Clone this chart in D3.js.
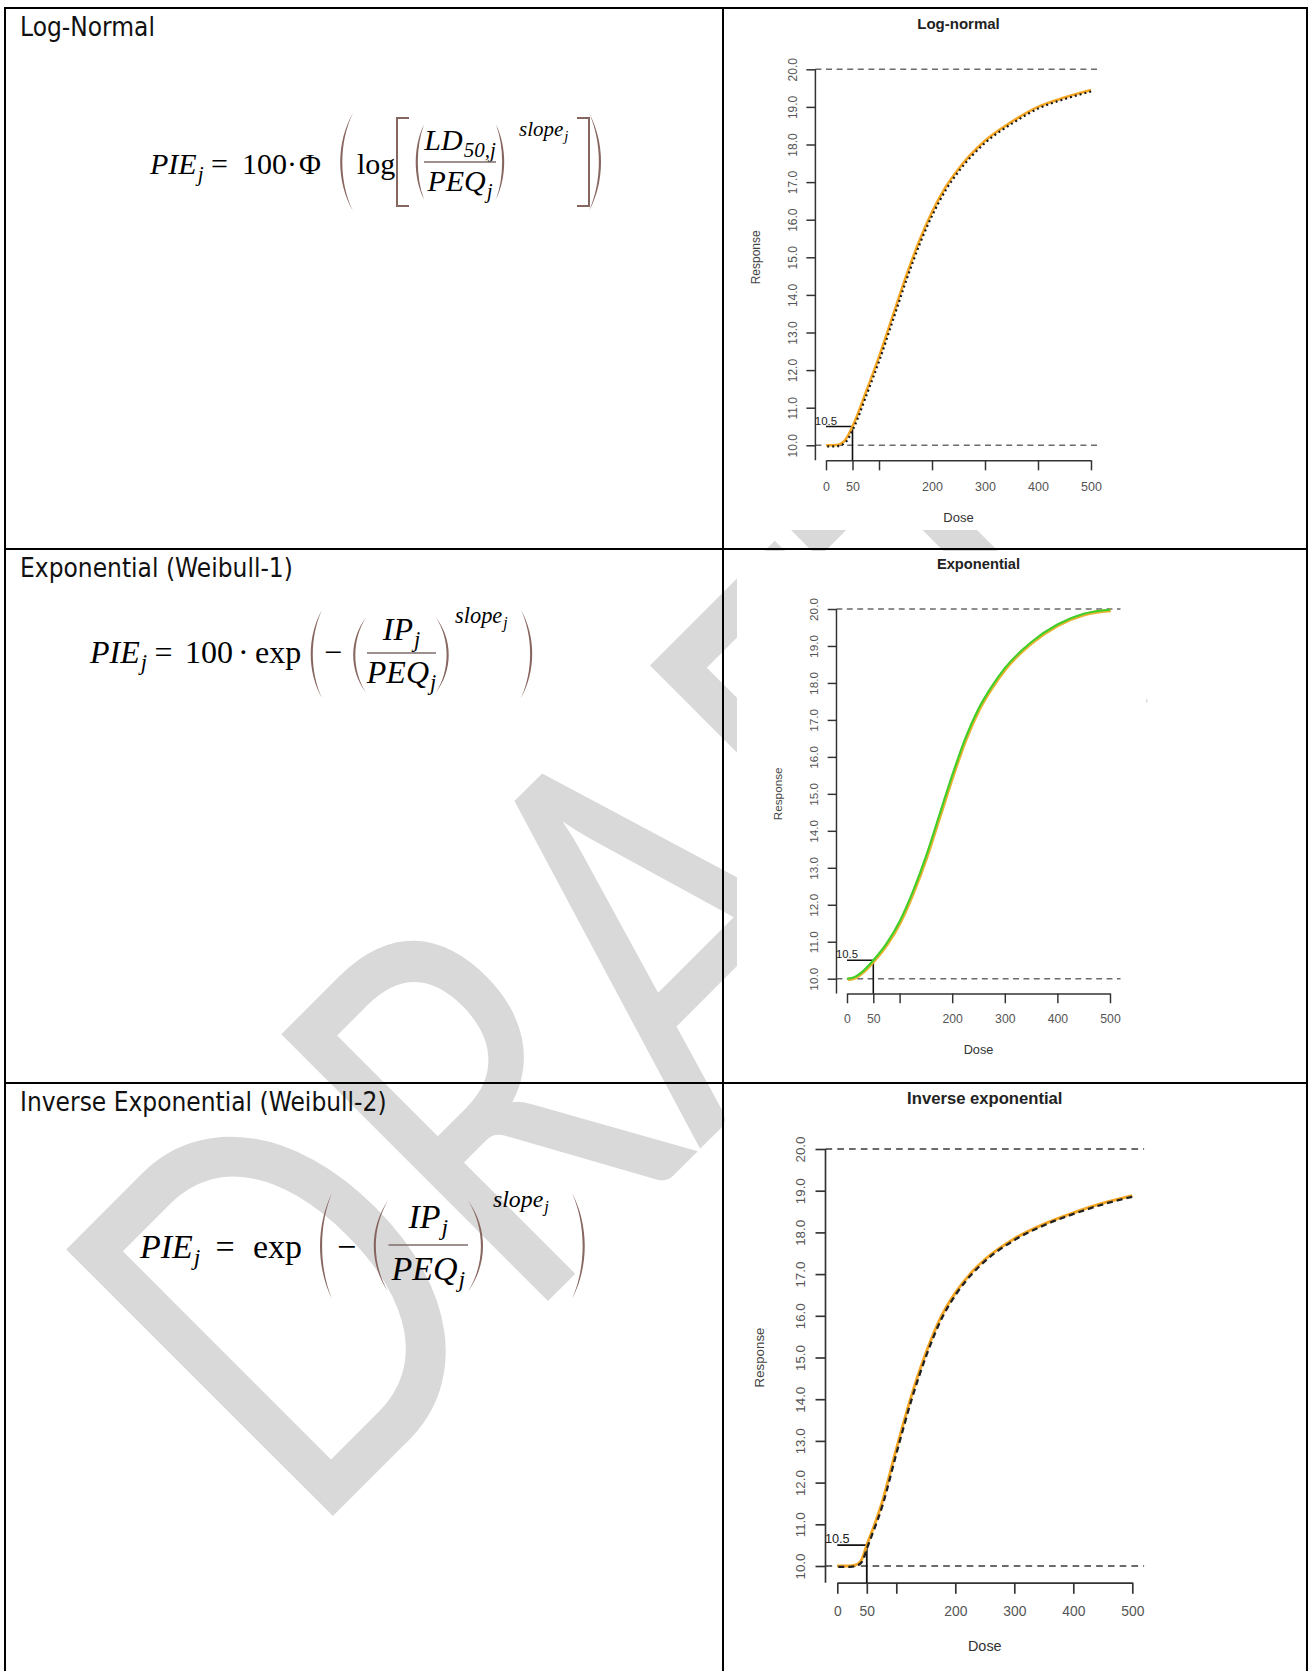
<!DOCTYPE html>
<html>
<head>
<meta charset="utf-8">
<script src="https://cdn.jsdelivr.net/npm/d3@7"></script>
<style>
  html, body { margin: 0; padding: 0; background: #fff; }
  svg { display: block; }
</style>
</head>
<body>
<div id="chart"></div>
<script>
// ---- values ----
const rowTitles = ["Log-Normal", "Exponential (Weibull-1)", "Inverse Exponential (Weibull-2)"];
const plotTitles = ["Log-normal", "Exponential", "Inverse exponential"];
const doseTicks = [0, 50, 100, 200, 300, 400, 500];
const doseTickLabels = ["0", "50", "", "200", "300", "400", "500"];
const responseTicks = [10, 11, 12, 13, 14, 15, 16, 17, 18, 19, 20];
const doseRange = [-20, 520];
const responseRange = [9.6, 20.4];
const asymptotes = [10, 20];
const refPoint = [50, 10.5];
const refLabel = "10.5";

const logNormalDose = [0, 20, 35, 50, 75, 100, 125, 150, 175, 200, 225, 250, 300, 350, 400, 450, 500];
const logNormalResponse = [10.0, 10.01, 10.12, 10.5, 11.4, 12.35, 13.4, 14.45, 15.4, 16.2, 16.85, 17.35, 18.1, 18.6, 19.0, 19.25, 19.45];

const exponentialDose = [0, 15, 30, 50, 75, 100, 125, 150, 175, 200, 225, 250, 275, 300, 350, 400, 450, 500];
const exponentialResponse = [10.0, 10.05, 10.2, 10.5, 10.95, 11.55, 12.35, 13.3, 14.4, 15.5, 16.5, 17.3, 17.9, 18.4, 19.1, 19.58, 19.87, 19.98];

const inverseExpDose = [0, 20, 30, 40, 50, 75, 100, 125, 150, 175, 200, 225, 250, 300, 350, 400, 450, 500];
const inverseExpResponse = [10.0, 10.0, 10.02, 10.12, 10.5, 11.48, 12.8, 14.05, 15.1, 15.95, 16.55, 17.0, 17.35, 17.85, 18.2, 18.47, 18.7, 18.88];

const watermark = "DRAFT";

// ---- page ----
const W = 1310, H = 1671;
const svg = d3.select("#chart").append("svg")
  .attr("width", W).attr("height", H)
  .style("font-family", "'Liberation Sans', Arial, sans-serif");

svg.append("rect").attr("width", W).attr("height", H).attr("fill", "#fff");

// watermark behind everything
const wmG = svg.append("g");
const wmText = wmG.append("text")
  .text(watermark)
  .attr("font-family", "Lato, 'Open Sans', sans-serif")
  .attr("font-size", 100)
  .attr("fill", "#d9d9d9");
const wm100 = wmText.node().getComputedTextLength();
const wmSize = 100 * 1288 / wm100;
const wmStretch = 379 / (0.72 * wmSize);
wmText.attr("font-size", wmSize);
wmG.attr("transform", `translate(307,1542) rotate(-45) scale(1,${wmStretch})`);

// ---- plots ----
function drawPlot(p) {
  const k = p.k;
  const g = svg.append("g");

  // the pasted plot image has its own white background
  g.append("rect")
    .attr("x", p.box[0]).attr("y", p.box[1])
    .attr("width", p.box[2]).attr("height", p.box[3])
    .attr("fill", "#fff");

  const x = d3.scaleLinear().domain([0, 500]).range(p.xPx);
  const y = d3.scaleLinear().domain([10, 20]).range(p.yPx);
  const axisX = x(doseRange[0]);
  const axisY = y(responseRange[0]);
  const midX = x((doseRange[0] + doseRange[1]) / 2);
  const midY = y((responseRange[0] + responseRange[1]) / 2);

  // dashed asymptotes
  g.append("g").selectAll("line").data(asymptotes).join("line")
    .attr("x1", x(doseRange[0])).attr("x2", x(doseRange[1]))
    .attr("y1", d => y(d)).attr("y2", d => y(d))
    .attr("stroke", "#6a6a6a").attr("stroke-width", 1.6 * k)
    .attr("stroke-dasharray", `${6 * k} ${4.6 * k}`);

  // y axis
  const ya = g.append("g")
    .attr("transform", `translate(${axisX},0)`)
    .call(d3.axisLeft(y).tickValues(responseTicks)
      .tickFormat(d3.format(".1f")).tickSize(9 * k).tickSizeOuter(0));
  ya.select(".domain").attr("d", `M0,${axisY}V${y(20)}`);
  ya.selectAll(".domain, .tick line").attr("stroke", "#333").attr("stroke-width", 1.5 * k);
  ya.selectAll(".tick text")
    .attr("transform", "rotate(-90)")
    .attr("x", 0).attr("y", -23 * k).attr("dy", "0.35em")
    .attr("text-anchor", "middle")
    .attr("fill", "#555")
    .attr("font-size", 12 * k)
    .attr("font-family", "'Liberation Sans', Arial, sans-serif");

  // x axis
  const xa = g.append("g")
    .attr("transform", `translate(0,${axisY})`)
    .call(d3.axisBottom(x).tickValues(doseTicks)
      .tickFormat(d => doseTickLabels[doseTicks.indexOf(d)])
      .tickSize(10 * k).tickSizeOuter(0).tickPadding(11.5 * k));
  xa.selectAll(".domain, .tick line").attr("stroke", "#333").attr("stroke-width", 1.5 * k);
  xa.selectAll(".tick text")
    .attr("fill", "#555")
    .attr("font-size", 12.5 * k)
    .attr("font-family", "'Liberation Sans', Arial, sans-serif");

  // titles
  g.append("text")
    .attr("x", midX).attr("y", y(responseRange[1]) - 31 * k).attr("dy", "0.35em")
    .attr("text-anchor", "middle").attr("font-weight", "bold")
    .attr("font-size", 15 * k).attr("fill", "#222")
    .text(p.title);
  g.append("text")
    .attr("x", midX).attr("y", axisY + 57 * k).attr("dy", "0.35em")
    .attr("text-anchor", "middle")
    .attr("font-size", 13 * k).attr("fill", "#333")
    .text("Dose");
  g.append("text")
    .attr("transform", `translate(${axisX - 60 * k},${midY}) rotate(-90)`)
    .attr("dy", "0.35em")
    .attr("text-anchor", "middle")
    .attr("font-size", 12 * k).attr("fill", "#444")
    .text("Response");

  // reference dose / response marker
  g.append("path")
    .attr("d", `M${x(0)},${y(refPoint[1])}H${x(refPoint[0])}V${axisY}`)
    .attr("fill", "none").attr("stroke", "#111").attr("stroke-width", 1.6 * k);
  g.append("text")
    .attr("x", x(0)).attr("y", y(refPoint[1]) - 2 * k)
    .attr("text-anchor", "middle")
    .attr("font-size", 11.5 * k).attr("fill", "#222")
    .text(refLabel);

  // fitted curves
  const line = d3.line()
    .x(d => x(d[0])).y(d => y(d[1]))
    .curve(d3.curveMonotoneX);
  p.layers.forEach(l => {
    g.append("path")
      .datum(p.curve)
      .attr("d", line)
      .attr("fill", "none")
      .attr("stroke", l.color)
      .attr("stroke-width", l.width * k)
      .attr("stroke-dasharray", l.dash || null)
      .attr("transform", l.shift ? `translate(${l.shift[0] * k},${l.shift[1] * k})` : null);
  });
}

drawPlot({
  title: plotTitles[0], k: 1,
  box: [727, 10, 415, 520],
  xPx: [826, 1091], yPx: [445.3, 69.3],
  curve: d3.zip(logNormalDose, logNormalResponse),
  layers: [
    { color: "#f5a623", width: 2.6 },
    { color: "#1a1a1a", width: 2.2, dash: "2 3", shift: [1.2, 1.2] }
  ]
});
drawPlot({
  title: plotTitles[1], k: 0.98,
  box: [737, 551, 409, 520],
  xPx: [847, 1110], yPx: [978.7, 609],
  curve: d3.zip(exponentialDose, exponentialResponse),
  layers: [
    { color: "#e9b232", width: 3.4, shift: [0.8, 0.8] },
    { color: "#3fcf2a", width: 2.2 }
  ]
});
drawPlot({
  title: plotTitles[2], k: 1.11,
  box: [737, 1085, 413, 590],
  xPx: [837.3, 1132.3], yPx: [1566, 1149],
  curve: d3.zip(inverseExpDose, inverseExpResponse),
  layers: [
    { color: "#f5a623", width: 2.6 },
    { color: "#222", width: 2.1, dash: "6 4", shift: [0.9, 0.8] }
  ]
});

// ---- table grid ----
const grid = svg.append("g").attr("stroke", "#000").attr("stroke-width", 2);
[[5, 8, 1307, 8], [5, 549, 1307, 549], [5, 1083, 1307, 1083],
 [5, 7, 5, H + 5], [723, 7, 723, H + 5], [1307, 7, 1307, H + 5]]
  .forEach(c => grid.append("line")
    .attr("x1", c[0]).attr("y1", c[1]).attr("x2", c[2]).attr("y2", c[3]));

// ---- row titles (left cells) ----
const rowBase = [36, 577, 1111];
const rt = svg.append("g").attr("font-family", "'DejaVu Sans', Verdana, sans-serif")
  .attr("font-size", 26).attr("fill", "#111");
const probe = rt.append("text").text(rowTitles[1]);
const squeeze = 273 / probe.node().getComputedTextLength();
probe.remove();
rowTitles.forEach((t, i) => {
  rt.append("text")
    .attr("transform", `translate(20,${rowBase[i]}) scale(${squeeze},1)`)
    .text(t);
});

// ---- equations ----
const EQ_FONT = "'Liberation Serif', 'Times New Roman', serif";
const DELIM = "#87665f";

function equation(size, base) {
  const g = svg.append("g").style("font-family", EQ_FONT).attr("fill", "#000");
  function put(parent, s, x, y, fs, it) {
    const el = parent.append("text").attr("x", x).attr("y", y)
      .attr("font-size", fs).attr("font-style", it ? "italic" : "normal").text(s);
    return el.node().getComputedTextLength();
  }
  // a run of [text, italic, "sub"] pieces, drawn from x on baseline y
  function run(parent, pieces, x, y, fs) {
    let px = x;
    pieces.forEach(pc => {
      if (pc[2] === "sub") px += 1 + put(parent, pc[0], px + 1, y + fs * 0.22, fs * 0.7, pc[1]);
      else px += put(parent, pc[0], px, y, fs, pc[1]);
    });
    return px - x;
  }
  const api = {
    text(pieces, x) { run(g, pieces, x, base, size); return api; },
    sup(pieces, x, y) { run(g, pieces, x, y, size * 0.7); return api; },
    frac(num, den, x0, x1, barY, numY, denY) {
      const n = g.append("g"), d = g.append("g");
      const nw = run(n, num, 0, numY, size);
      const dw = run(d, den, 0, denY, size);
      const c = (x0 + x1) / 2;
      n.attr("transform", `translate(${c - nw / 2},0)`);
      d.attr("transform", `translate(${c - dw / 2},0)`);
      g.append("line").attr("x1", x0).attr("x2", x1).attr("y1", barY).attr("y2", barY)
        .attr("stroke", "#7d6b68").attr("stroke-width", 1.4);
      return api;
    },
    delim(kind, x, yc, h, w) {
      const t = yc - h / 2, b = yc + h / 2, th = 2.8;
      let dpath;
      if (kind === "(")
        dpath = `M${x + w},${t}C${x},${t + h * 0.3} ${x},${b - h * 0.3} ${x + w},${b}` +
                `C${x + th},${b - h * 0.3} ${x + th},${t + h * 0.3} ${x + w},${t}Z`;
      else if (kind === ")")
        dpath = `M${x},${t}C${x + w},${t + h * 0.3} ${x + w},${b - h * 0.3} ${x},${b}` +
                `C${x + w - th},${b - h * 0.3} ${x + w - th},${t + h * 0.3} ${x},${t}Z`;
      if (dpath) {
        g.append("path").attr("d", dpath).attr("fill", DELIM);
      } else {
        const p = kind === "[" ? `M${x + w},${t}H${x}V${b}H${x + w}` : `M${x},${t}H${x + w}V${b}H${x}`;
        g.append("path").attr("d", p).attr("fill", "none").attr("stroke", DELIM).attr("stroke-width", 2);
      }
      return api;
    }
  };
  return api;
}

// Log-normal
equation(30, 174)
  .text([["PIE", 1], ["j", 1, "sub"]], 150)
  .text([["="]], 211)
  .text([["100"]], 242)
  .text([["\u00b7"]], 287)
  .text([["\u03a6"]], 299)
  .delim("(", 336, 162, 98, 17)
  .text([["log"]], 357)
  .delim("[", 397, 162, 88, 12)
  .delim("(", 413, 162, 75, 11)
  .frac([["LD", 1], ["50,j", 1, "sub"]], [["PEQ", 1], ["j", 1, "sub"]], 424, 496, 162, 150, 191)
  .delim(")", 496, 162, 75, 11)
  .sup([["slope", 1], ["j", 1, "sub"]], 519, 136)
  .delim("]", 577, 162, 88, 12)
  .delim(")", 589, 162, 98, 16);

// Exponential (Weibull-1)
equation(32, 663)
  .text([["PIE", 1], ["j", 1, "sub"]], 90)
  .text([["="]], 154.5)
  .text([["100"]], 185)
  .text([["\u00b7"]], 238)
  .text([["exp"]], 255)
  .delim("(", 307, 654, 88, 15)
  .text([["\u2212"]], 324)
  .delim("(", 349, 655, 75, 17)
  .frac([["IP", 1], ["j", 1, "sub"]], [["PEQ", 1], ["j", 1, "sub"]], 367, 436, 653, 640, 683)
  .delim(")", 436, 655, 75, 17)
  .sup([["slope", 1], ["j", 1, "sub"]], 455, 623)
  .delim(")", 521, 654, 88, 15);

// Inverse exponential (Weibull-2)
equation(34, 1258)
  .text([["PIE", 1], ["j", 1, "sub"]], 140)
  .text([["="]], 215.5)
  .text([["exp"]], 253)
  .delim("(", 316, 1246, 106, 16)
  .text([["\u2212"]], 337)
  .delim("(", 369, 1246, 91, 19)
  .frac([["IP", 1], ["j", 1, "sub"]], [["PEQ", 1], ["j", 1, "sub"]], 388.5, 468, 1245, 1228, 1280)
  .delim(")", 468, 1246, 91, 20)
  .sup([["slope", 1], ["j", 1, "sub"]], 493, 1207)
  .delim(")", 572, 1246, 106, 17);
</script>
</body>
</html>
